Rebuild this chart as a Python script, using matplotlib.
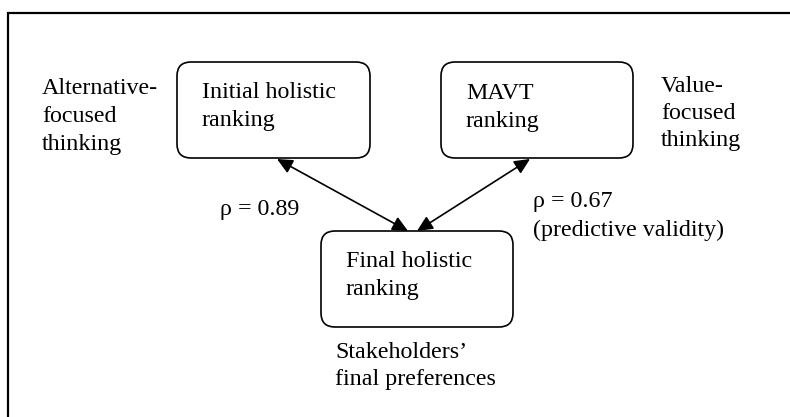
import matplotlib
matplotlib.use("Agg")
import matplotlib.pyplot as plt
from matplotlib.patches import FancyBboxPatch, FancyArrowPatch


# node boxes: label lines
box_labels = [
    ["Initial holistic", "ranking"],
    ["MAVT", "ranking"],
    ["Final holistic", "ranking"],
]

# side notes
side_labels = [
    ["Alternative-", "focused", "thinking"],
    ["Value-", "focused", "thinking"],
    ["Stakeholders\u2019", "final preferences"],
]

# correlations on the links
rho_labels = [
    ["\u03c1 = 0.89"],
    ["\u03c1 = 0.67", "(predictive validity)"],
]


W, H = 790, 417
fig = plt.figure(figsize=(W / 100, H / 100), dpi=100)
ax = fig.add_axes([0, 0, 1, 1])
ax.set_xlim(0, W)
ax.set_ylim(H, 0)
ax.axis("off")

plt.rcParams["font.family"] = ["Liberation Serif", "DejaVu Serif"]
FS = 17.3
LINE = 28

# outer frame (only left and top edges show)
ax.plot([8, 8, W + 5], [H + 5, 13, 13], color="black", lw=1.6,
        solid_joinstyle="miter")

# box geometry: left, top, right, bottom
boxes = [
    (177, 62, 370, 158),
    (441, 62, 633, 158),
    (321, 231, 513, 327),
]
box_text_pos = [(202, 98), (466, 99), (346, 267)]

for (x0, y0, x1, y1), lines, (tx, ty) in zip(boxes, box_labels, box_text_pos):
    r = 14
    patch = FancyBboxPatch(
        (x0 + r, y0 + r), (x1 - x0) - 2 * r, (y1 - y0) - 2 * r,
        boxstyle="round,pad=%d,rounding_size=%d" % (r, r),
        fc="white", ec="black", lw=1.2,
    )
    ax.add_patch(patch)
    for i, s in enumerate(lines):
        ax.text(tx, ty + i * LINE, s, fontsize=FS, va="baseline", ha="left")


def write(lines, x, y, step=LINE):
    for i, s in enumerate(lines):
        ax.text(x, y + i * step, s, fontsize=FS, va="baseline", ha="left")


write(side_labels[0], 42, 94)
write(side_labels[1], 661, 92, 27)
write(side_labels[2], 335, 358, 27)
write(rho_labels[0], 220, 215)
write(rho_labels[1], 533, 207, 29)

# double-headed links
links = [
    ((277, 159), (408, 231)),
    ((530, 159), (417, 231)),
]
for a, b in links:
    arr = FancyArrowPatch(
        a, b,
        arrowstyle="<|-|>,head_length=0.47,head_width=0.22",
        mutation_scale=20, shrinkA=0, shrinkB=0,
        color="black", lw=1.2,
    )
    ax.add_patch(arr)

plt.savefig("out.png", dpi=100)
